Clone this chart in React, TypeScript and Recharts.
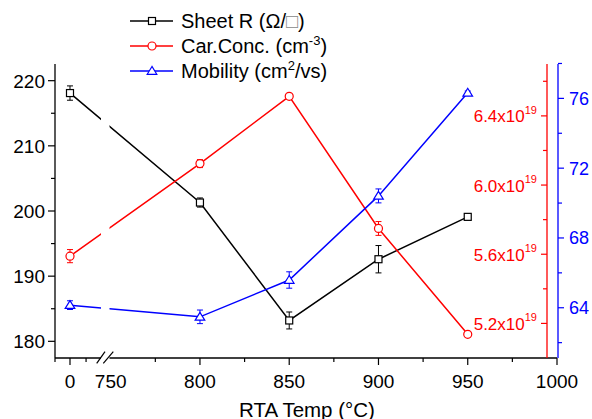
import React from 'react';
import { ComposedChart, Line, XAxis, YAxis, ErrorBar } from 'recharts';

// RTA temperature (°C); 0 = as-deposited, drawn left of the axis break
const temps = [0, 800, 850, 900, 950];
const sheetR = [218.1, 201.3, 183.2, 192.6, 199.1];
const sheetRErr = [1.1, 0.7, 1.3, 2.1, 0.3];
const carConc = [5.589e19, 6.124e19, 6.513e19, 5.749e19, 5.137e19];
const carConcErr = [0.038e19, 0.023e19, 0.008e19, 0.04e19, 0.005e19];
const mobility = [64.15, 63.48, 65.59, 70.41, 76.32];
const mobilityErr = [0.25, 0.39, 0.47, 0.4, 0.1];

const xMajor = [0, 750, 800, 850, 900, 950, 1000];
const xMinor = [775, 825, 875, 925, 975];
const rMajor = [180, 190, 200, 210, 220];
const rMinor = [185, 195, 205, 215];
const cMajor = [5.2e19, 5.6e19, 6.0e19, 6.4e19];
const cMinor = [5.4e19, 5.8e19, 6.2e19, 6.6e19];
const mMajor = [64, 68, 72, 76];
const mMinor = [62, 66, 70, 74, 78];

// broken x axis: "0" sits just left of the break, 750..1000 is linear
const X_MIN = 718.8;
const ZERO_AT = 727.2;
const toAxis = (t: number) => (t === 0 ? ZERO_AT : t);

const W = 592;
const H = 419;
const PLOT_T = 64;
const PLOT_B = 358;
const RED_X = 547;
const FONT = '"Liberation Sans", Arial, sans-serif';

const data = temps.map((t, i) => ({
  t,
  xp: toAxis(t),
  r: sheetR[i],
  rErr: sheetRErr[i],
  c: carConc[i],
  cErr: carConcErr[i],
  m: mobility[i],
  mErr: mobilityErr[i],
}));

const xTicks = [X_MIN, ZERO_AT, ZERO_AT + 9, ...xMajor.filter((v) => v > 0), ...xMinor];
const xMajorPos = xMajor.map(toAxis);

const XTick = (props: any) => {
  const { x, y, payload } = props;
  const v = payload.value;
  const major = xMajorPos.some((p) => Math.abs(p - v) < 0.01);
  const label = v === ZERO_AT ? '0' : String(v);
  return (
    <g>
      {v !== 750 && (
        <line x1={x} x2={x} y1={y} y2={y + (major ? 7 : 4)} stroke="#000" strokeWidth={1.2} />
      )}
      {major && (
        <text x={x} y={y + 30} textAnchor="middle" fontSize={19} fontFamily={FONT} fill="#000">
          {label}
        </text>
      )}
    </g>
  );
};

const LeftTick = (props: any) => {
  const { x, y, payload } = props;
  const v = payload.value;
  const major = rMajor.includes(v);
  return (
    <g>
      <line x1={x - (major ? 7 : 4)} x2={x} y1={y} y2={y} stroke="#000" strokeWidth={1.2} />
      {major && (
        <text x={x - 10} y={y} dy="0.36em" textAnchor="end" fontSize={19} fontFamily={FONT} fill="#000">
          {v}
        </text>
      )}
    </g>
  );
};

const RedTick = (props: any) => {
  const { y, payload } = props;
  const v = payload.value;
  const major = cMajor.some((p) => Math.abs(p - v) < 1e15);
  return (
    <g>
      <line x1={RED_X - (major ? 6 : 4)} x2={RED_X} y1={y} y2={y} stroke="#ff0000" strokeWidth={1.2} />
      {major && (
        <text x={RED_X - 10} y={y + 6.5} textAnchor="end" fontSize={17} fontFamily={FONT} fill="#ff0000">
          {(v / 1e19).toFixed(1)}x10
          <tspan dy={-8.5} fontSize={11}>19</tspan>
        </text>
      )}
    </g>
  );
};

const BlueTick = (props: any) => {
  const { x, y, payload } = props;
  const v = payload.value;
  const major = mMajor.includes(v);
  return (
    <g>
      <line x1={x} x2={x + (major ? 6 : 4)} y1={y} y2={y} stroke="#0000ff" strokeWidth={1.2} />
      {major && (
        <text x={x + 11} y={y} dy="0.36em" textAnchor="start" fontSize={18} fontFamily={FONT} fill="#0000ff">
          {v}
        </text>
      )}
    </g>
  );
};

const Square = ({ cx, cy, color }: any) => (
  <rect x={cx - 3.5} y={cy - 3.5} width={7} height={7} fill="#fff" stroke={color} strokeWidth={1.2} />
);
const Circle = ({ cx, cy, color }: any) => (
  <circle cx={cx} cy={cy} r={4} fill="#fff" stroke={color} strokeWidth={1.2} />
);
const Triangle = ({ cx, cy, color }: any) => (
  <polygon
    points={`${cx},${cy - 4.5} ${cx - 4.8},${cy + 3.3} ${cx + 4.8},${cy + 3.3}`}
    fill="#fff"
    stroke={color}
    strokeWidth={1.2}
  />
);

const dotOf = (Shape: any, color: string) => (p: any) =>
  <Shape key={`d-${p.index}`} cx={p.cx} cy={p.cy} color={color} />;

const LegendRow = ({ y, color, Shape, children }: any) => (
  <g>
    <line x1={130} x2={173} y1={y} y2={y} stroke={color} strokeWidth={1.5} />
    <Shape cx={152} cy={y} color={color} />
    <text x={181} y={y + 7} fontSize={20} fontFamily={FONT} fill="#000">
      {children}
    </text>
  </g>
);

export default function App() {
  return (
    <div style={{ position: 'absolute', left: 0, top: 0, width: W, height: H, background: '#fff' }}>
      <ComposedChart
        width={W}
        height={H}
        data={data}
        margin={{ top: PLOT_T, right: 0, bottom: H - PLOT_B - 50, left: 0 }}
      >
        <XAxis
          dataKey="xp"
          type="number"
          domain={[X_MIN, 1000]}
          ticks={xTicks}
          interval={0}
          allowDataOverflow
          height={50}
          tickSize={0}
          tickMargin={0}
          tickLine={false}
          axisLine={{ stroke: '#000', strokeWidth: 1.3 }}
          tick={<XTick />}
        />
        <YAxis
          yAxisId="r"
          orientation="left"
          type="number"
          domain={[177.44, 222.56]}
          ticks={[...rMajor, ...rMinor]}
          interval={0}
          allowDataOverflow
          width={55}
          tickSize={0}
          tickMargin={0}
          tickLine={false}
          axisLine={{ stroke: '#000', strokeWidth: 1.3 }}
          tick={<LeftTick />}
        />
        <YAxis
          yAxisId="m"
          orientation="right"
          type="number"
          domain={[61.12, 77.97]}
          ticks={[...mMajor, ...mMinor]}
          interval={0}
          allowDataOverflow
          width={34}
          tickSize={0}
          tickMargin={0}
          tickLine={false}
          axisLine={{ stroke: '#0000ff', strokeWidth: 1.3 }}
          tick={<BlueTick />}
        />
        <YAxis
          yAxisId="c"
          orientation="right"
          type="number"
          domain={[5.0e19, 6.7e19]}
          ticks={[...cMajor, ...cMinor]}
          interval={0}
          allowDataOverflow
          width={1}
          tickSize={0}
          tickMargin={0}
          tickLine={false}
          axisLine={false}
          tick={<RedTick />}
        />
        <Line
          yAxisId="r"
          dataKey="r"
          stroke="#000"
          strokeWidth={1.5}
          isAnimationActive={false}
          dot={dotOf(Square, '#000')}
          activeDot={false}
        >
          <ErrorBar dataKey="rErr" direction="y" width={3} stroke="#000" strokeWidth={1} />
        </Line>
        <Line
          yAxisId="c"
          dataKey="c"
          stroke="#ff0000"
          strokeWidth={1.5}
          isAnimationActive={false}
          dot={dotOf(Circle, '#ff0000')}
          activeDot={false}
        >
          <ErrorBar dataKey="cErr" direction="y" width={3} stroke="#ff0000" strokeWidth={1} />
        </Line>
        <Line
          yAxisId="m"
          dataKey="m"
          stroke="#0000ff"
          strokeWidth={1.5}
          isAnimationActive={false}
          dot={dotOf(Triangle, '#0000ff')}
          activeDot={false}
        >
          <ErrorBar dataKey="mErr" direction="y" width={3} stroke="#0000ff" strokeWidth={1} />
        </Line>
      </ComposedChart>
      <svg
        width={W}
        height={H}
        style={{ position: 'absolute', left: 0, top: 0, pointerEvents: 'none' }}
      >
        {/* axis break */}
        <rect x={101} y={PLOT_T - 2} width={8.5} height={PLOT_B - PLOT_T + 3} fill="#fff" />
        <line x1={96.7} y1={363.3} x2={105} y2={351.7} stroke="#000" strokeWidth={1.2} />
        <line x1={103.3} y1={363.3} x2={113.3} y2={351.7} stroke="#000" strokeWidth={1.2} />
        {/* carrier concentration axis line */}
        <line x1={RED_X} x2={RED_X} y1={PLOT_T} y2={PLOT_B} stroke="#ff0000" strokeWidth={1.3} />
        <text x={307} y={416.5} textAnchor="middle" fontSize={20.5} fontFamily={FONT} fill="#000">
          RTA Temp (°C)
        </text>
        <LegendRow y={21} color="#000" Shape={Square}>
          Sheet R (Ω/<tspan fill="#888">□</tspan>)
        </LegendRow>
        <LegendRow y={46} color="#ff0000" Shape={Circle}>
          Car.Conc. (cm<tspan dy={-8} fontSize={13}>-3</tspan>
          <tspan dy={8}>)</tspan>
        </LegendRow>
        <LegendRow y={71} color="#0000ff" Shape={Triangle}>
          Mobility (cm<tspan dy={-8} fontSize={13}>2</tspan>
          <tspan dy={8}>/vs)</tspan>
        </LegendRow>
      </svg>
    </div>
  );
}
